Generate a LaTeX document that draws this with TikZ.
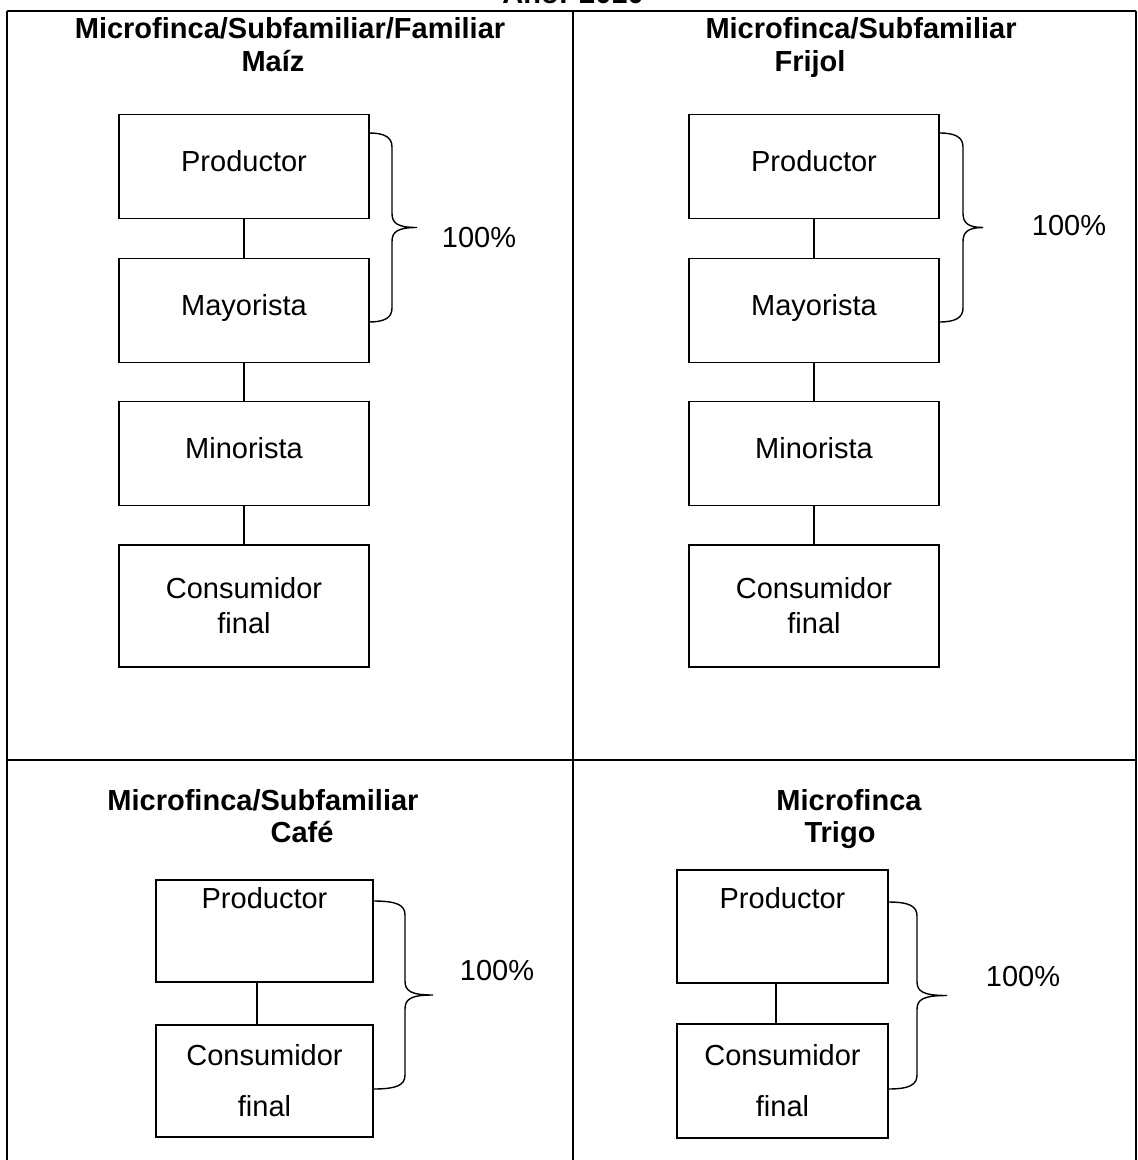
\documentclass[tikz,border=0pt]{standalone}
\usepackage{fontspec}
\setmainfont{Liberation Sans}
\usetikzlibrary{positioning}

\tikzset{
  caja/.style={draw, line width=0.75pt, inner sep=0pt, minimum width=125pt, minimum height=52pt, text height=10.4pt, text depth=5pt},
  cajados/.style={draw, line width=0.75pt, inner sep=0pt, minimum width=125pt, minimum height=61pt, align=center},
  titulo/.style={font=\fontsize{14.5}{17.4}\selectfont\bfseries, anchor=base, inner sep=0pt},
  pct/.style={anchor=base, inner sep=0pt},
  tabla/.style={line width=1pt},
  linea/.style={line width=0.75pt},
  llaveline/.style={line width=0.7pt}
}

% llave: x inicio, y arriba, y abajo, x vertical, x punta
\newcommand{\llave}[5]{%
  \pgfmathsetmacro{\ym}{(#2+#3)/2}
  \draw[llaveline] (#1,#2) .. controls (#4-8,#2) and (#4,#2+4) .. (#4,#2+14) -- (#4,\ym-14)
    .. controls (#4,\ym-4) and (#4+6,\ym) .. (#5,\ym)
    .. controls (#4+6,\ym) and (#4,\ym+4) .. (#4,\ym+14) -- (#4,#3-14)
    .. controls (#4,#3-4) and (#4-8,#3) .. (#1,#3);}

\begin{document}
\begin{tikzpicture}[x=0.5pt, y=-0.5pt, font=\fontsize{14.5}{17.4}\selectfont]
  \useasboundingbox (0,0) rectangle (1138,1160);
  \fill[white] (0,0) rectangle (1138,1160);

  % tabla
  \draw[tabla] (7,11) -- (1136,11);
  \draw[tabla] (7,11) -- (7,1165);
  \draw[tabla] (573,11) -- (573,1165);
  \draw[tabla] (1136,11) -- (1136,1165);
  \draw[tabla] (7,760) -- (1136,760);
  \node[titulo] (anio) at (573,4) {Año: 2010};

  % maiz
  \node[titulo] (t1Maiz) at (290,38.4) {Microfinca/Subfamiliar/Familiar};
  \node[titulo] (t2Maiz) at (273,71.4) {Maíz};
  \node[caja] (pMaiz) at (244,166.5) {Productor};
  \node[caja] (mMaiz) at (244,310.5) {Mayorista};
  \node[caja] (miMaiz) at (244,453.5) {Minorista};
  \node[cajados] (cMaiz) at (244,606) {Consumidor\\final};
  \draw[linea] (pMaiz) -- (mMaiz);
  \draw[linea] (mMaiz) -- (miMaiz);
  \draw[linea] (miMaiz) -- (cMaiz);
  \llave{369}{133}{322}{392}{417}
  \node[pct] (pctMaiz) at (479,248) {100\%};

  % frijol
  \node[titulo] (t1Frijol) at (861,38.4) {Microfinca/Subfamiliar};
  \node[titulo] (t2Frijol) at (810,71.4) {Frijol};
  \node[caja] (pFrijol) at (814,166.5) {Productor};
  \node[caja] (mFrijol) at (814,310.5) {Mayorista};
  \node[caja] (miFrijol) at (814,453.5) {Minorista};
  \node[cajados] (cFrijol) at (814,606) {Consumidor\\final};
  \draw[linea] (pFrijol) -- (mFrijol);
  \draw[linea] (mFrijol) -- (miFrijol);
  \draw[linea] (miFrijol) -- (cFrijol);
  \llave{939}{133}{322}{963}{983}
  \node[pct] (pctFrijol) at (1069,236) {100\%};

  % cafe
  \node[titulo] (t1Cafe) at (263,810.4) {Microfinca/Subfamiliar};
  \node[titulo] (t2Cafe) at (302,842.4) {Café};
  \node[caja, minimum width=108.5pt, minimum height=51pt, text height=14.2pt, text depth=36.8pt] (pCafe) at (264.5,931) {Productor};
  \node[cajados, minimum width=108.5pt, minimum height=56pt] (cCafe) at (264.5,1081) {Consumidor\\[8pt]final};
  \draw[linea] ([xshift=-3.75pt]pCafe.south) -- ([xshift=-3.75pt]cCafe.north);
  \llave{373}{901}{1089}{405}{433}
  \node[pct] (pctCafe) at (497,980) {100\%};

  % trigo
  \node[titulo] (t1Trigo) at (849,810.4) {Microfinca};
  \node[titulo] (t2Trigo) at (840,842.4) {Trigo};
  \node[caja, minimum width=105.5pt, minimum height=56.5pt, text height=19.2pt, text depth=37.3pt] (pTrigo) at (782.5,926.5) {Productor};
  \node[cajados, minimum width=105.5pt, minimum height=57pt] (cTrigo) at (782.5,1081) {Consumidor\\[8pt]final};
  \draw[linea] ([xshift=-3.25pt]pTrigo.south) -- ([xshift=-3.25pt]cTrigo.north);
  \llave{888}{902}{1089}{917}{947}
  \node[pct] (pctTrigo) at (1023,986) {100\%};
\end{tikzpicture}
\end{document}
